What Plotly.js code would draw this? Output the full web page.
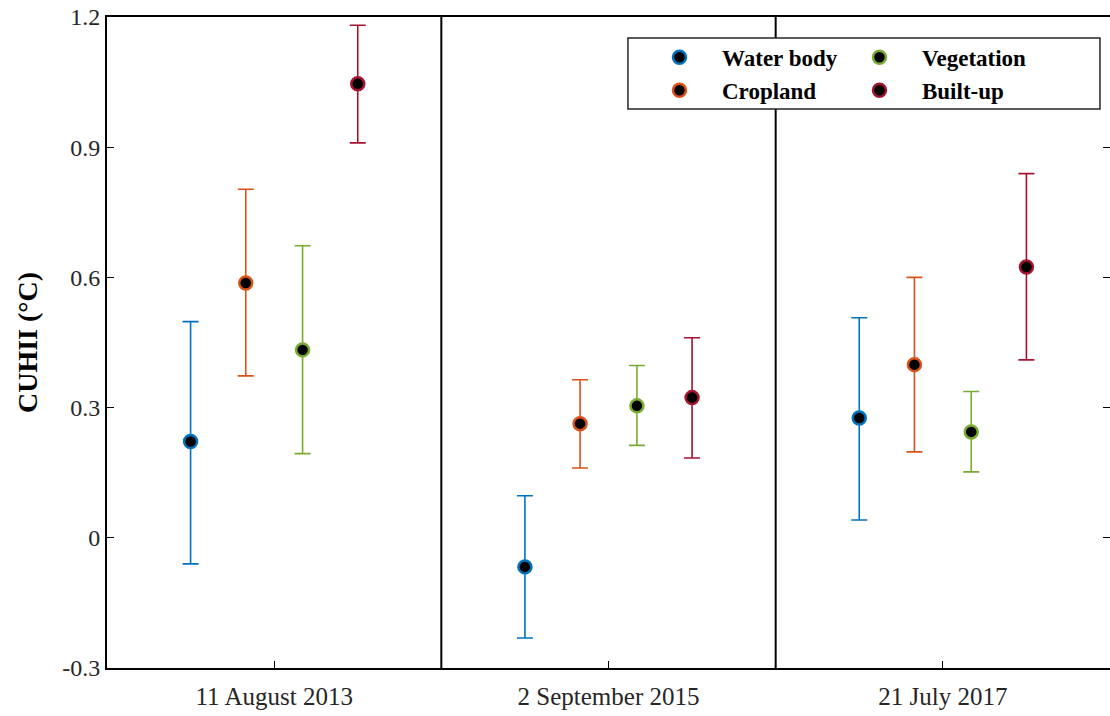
<!DOCTYPE html>
<html>
<head>
<meta charset="utf-8">
<script src="https://cdn.plot.ly/plotly-3.0.1.min.js"></script>
<style>html,body{margin:0;padding:0;background:#fff}</style>
</head>
<body>
<div id="chart" style="width:1110px;height:716px"></div>
<script>
const dates = ["11 August 2013", "2 September 2015", "21 July 2017"];
const classes = ["Water body", "Cropland", "Vegetation", "Built-up"];
const colors = ["#0072BD", "#D95319", "#77AC30", "#A2142F"];
const offsets = [-0.25, -0.085, 0.085, 0.25];
const legendIds = ["legend", "legend", "legend2", "legend2"];

// mean CUHII per class for each date
const waterMean = [0.222, -0.067, 0.276];
const cropMean  = [0.587, 0.263, 0.399];
const vegMean   = [0.433, 0.304, 0.244];
const builtMean = [1.046, 0.323, 0.624];
// upper bound of error bar
const waterHigh = [0.498, 0.097, 0.507];
const cropHigh  = [0.803, 0.364, 0.600];
const vegHigh   = [0.673, 0.397, 0.337];
const builtHigh = [1.181, 0.461, 0.839];
// lower bound of error bar
const waterLow = [-0.060, -0.231, 0.041];
const cropLow  = [0.373, 0.161, 0.198];
const vegLow   = [0.194, 0.213, 0.152];
const builtLow = [0.910, 0.184, 0.410];

const means = [waterMean, cropMean, vegMean, builtMean];
const highs = [waterHigh, cropHigh, vegHigh, builtHigh];
const lows = [waterLow, cropLow, vegLow, builtLow];

const traces = classes.map((name, k) => ({
  type: 'scatter',
  mode: 'markers',
  name: name,
  legend: legendIds[k],
  x: dates.map((d, i) => i + offsets[k]),
  y: means[k],
  error_y: {
    type: 'data',
    symmetric: false,
    array: means[k].map((m, i) => highs[k][i] - m),
    arrayminus: means[k].map((m, i) => m - lows[k][i]),
    color: colors[k],
    thickness: 1.6,
    width: 8
  },
  marker: {
    color: '#000000',
    size: 13,
    line: {color: colors[k], width: 2.5}
  }
}));

const serif = '"Liberation Serif", "Times New Roman", serif';
const legendFont = {family: serif, size: 23, color: '#000000', weight: 'bold'};
const legendBase = {
  orientation: 'v',
  xanchor: 'left', yanchor: 'top',
  y: 0.971,
  itemwidth: 75,
  bgcolor: 'rgba(0,0,0,0)',
  borderwidth: 0,
  font: legendFont,
  tracegroupgap: 0
};

const layout = {
  width: 1110,
  height: 716,
  margin: {l: 107, r: 0, t: 17, b: 48},
  paper_bgcolor: '#ffffff',
  plot_bgcolor: '#ffffff',
  font: {family: serif, color: '#262626', size: 24},
  showlegend: true,
  legend: Object.assign({}, legendBase, {x: 0.5284}),
  legend2: Object.assign({}, legendBase, {x: 0.7278}),
  xaxis: {
    range: [-0.5, 2.5],
    tickvals: [0, 1, 2],
    ticktext: dates,
    ticks: 'inside',
    ticklen: 7,
    tickwidth: 1.2,
    tickcolor: '#000',
    showgrid: false,
    zeroline: false,
    showline: true,
    linecolor: '#000',
    linewidth: 2,
    mirror: true,
    ticklabelstandoff: 5,
    tickfont: {size: 25, color: '#262626'}
  },
  yaxis: {
    range: [-0.3, 1.2],
    tickvals: [-0.3, 0, 0.3, 0.6, 0.9, 1.2],
    ticktext: ['-0.3', '0', '0.3', '0.6', '0.9', '1.2'],
    ticks: 'inside',
    ticklen: 7,
    tickwidth: 1.2,
    tickcolor: '#000',
    showgrid: false,
    zeroline: false,
    showline: true,
    linecolor: '#000',
    linewidth: 2,
    mirror: 'ticks',
    tickfont: {size: 24, color: '#262626'},
    title: {text: 'CUHII (°C)', font: {size: 28, color: '#000', weight: 'bold'}, standoff: 16}
  },
  shapes: [0.5, 1.5].map(v => ({
    type: 'line', xref: 'x', yref: 'paper',
    x0: v, x1: v, y0: 0, y1: 1,
    line: {color: '#000', width: 2}
  })).concat([{
    type: 'rect', xref: 'paper', yref: 'paper', layer: 'above',
    x0: 0.5194, x1: 0.990, y0: 0.8587, y1: 0.9677,
    fillcolor: '#ffffff',
    line: {color: '#262626', width: 1.5}
  }])
};

Plotly.newPlot('chart', traces, layout, {displayModeBar: false, staticPlot: true});
</script>
</body>
</html>
